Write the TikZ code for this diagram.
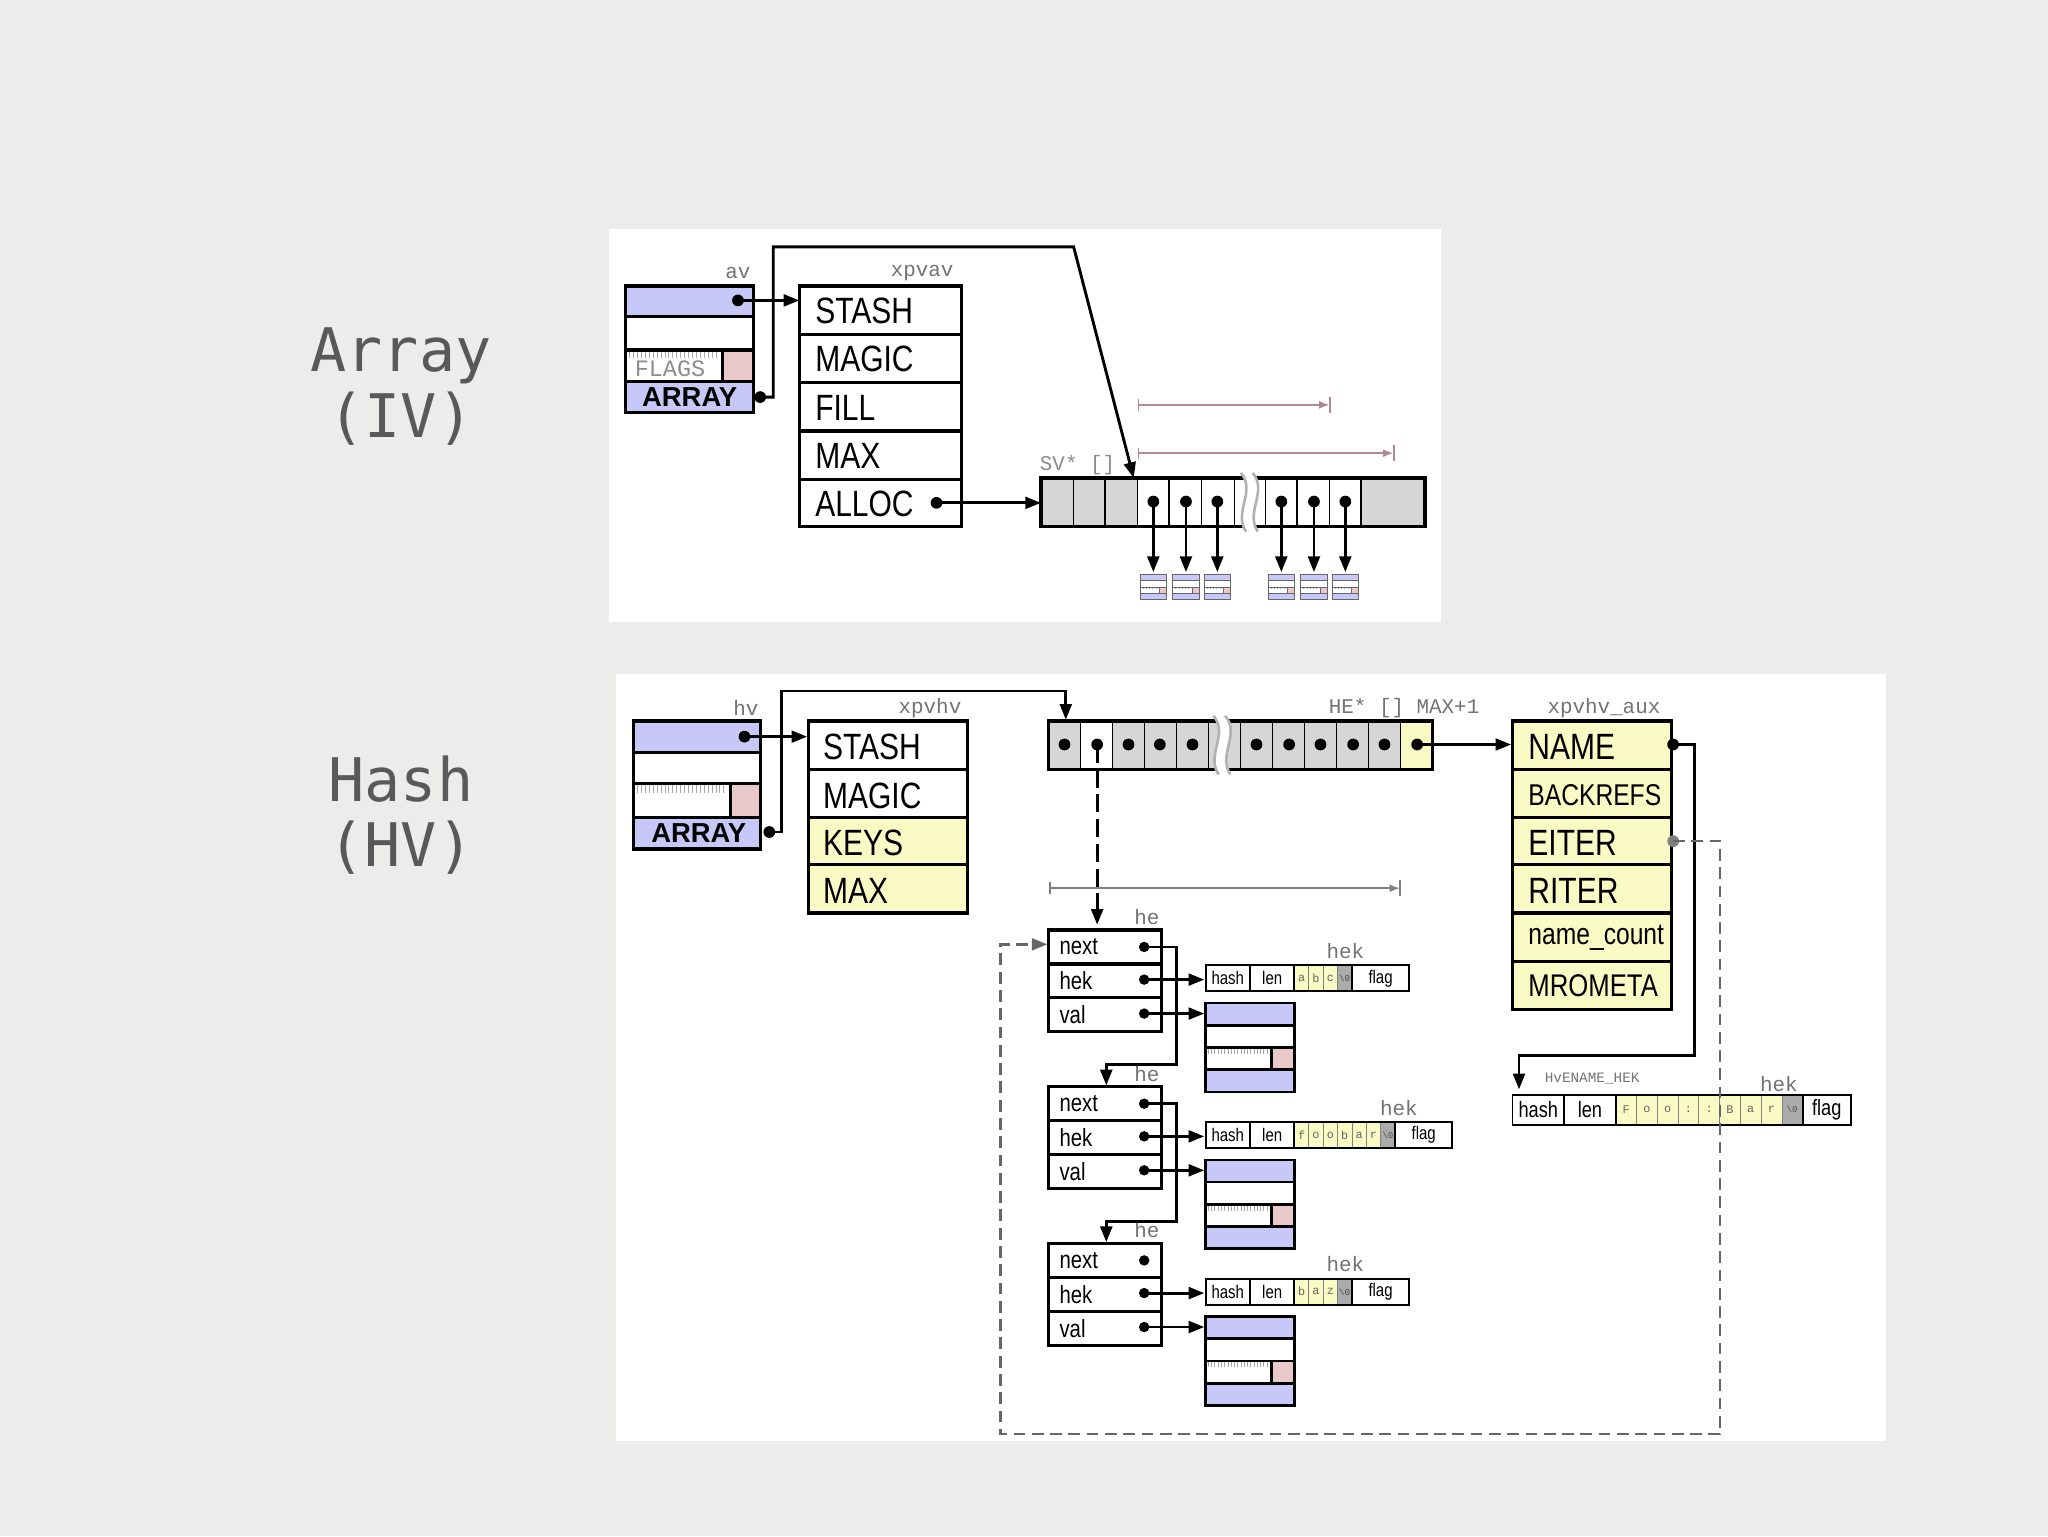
\documentclass[tikz,border=0pt]{standalone}
\usepackage{fontspec}
\setsansfont{Liberation Sans}
\setmonofont{Liberation Mono}
\newfontfamily\bigmono{DejaVu Sans Mono}
\newfontfamily\narrow{Liberation Sans}[FakeStretch=0.82]
\usetikzlibrary{arrows.meta}
\definecolor{paper}{HTML}{ECECEA}
\definecolor{svblue}{HTML}{C8C8F8}
\definecolor{svpink}{HTML}{E8C8C8}
\definecolor{yel}{HTML}{FAFAC4}
\definecolor{cellg}{HTML}{D6D6D6}
\definecolor{rng}{HTML}{B08890}
\newcommand\mysv[4]{%
 \pgfmathsetmacro\ya{#2+#4/4}\pgfmathsetmacro\yb{#2+#4/2}\pgfmathsetmacro\yc{#2+3*#4/4}%
 \pgfmathsetmacro\xe{#1+#3}\pgfmathsetmacro\xp{#1+0.74*#3}\pgfmathsetmacro\yd{#2+#4}%
 \pgfmathsetmacro\ha{#1+2}\pgfmathsetmacro\hb{#1+4.5}\pgfmathsetmacro\hc{\xp-2}\pgfmathsetmacro\yh{\yb+#4/14}%
 \fill[svblue] (#1,#2) rectangle (\xe,\ya);
 \fill[svblue] (#1,\yc) rectangle (\xe,\yd);
 \fill[svpink] (\xp,\yb) rectangle (\xe,\yc);
 \foreach \t in {\ha,\hb,...,\hc} \draw[gray!70,line width=0.4pt] (\t,\yb) -- (\t,\yh);
 \draw[svline] (#1,#2) rectangle (\xe,\yd);
 \draw[svline] (#1,\ya) -- (\xe,\ya) (#1,\yb) -- (\xe,\yb) (#1,\yc) -- (\xe,\yc) (\xp,\yb) -- (\xp,\yc);
}
% #1 x #2 y #3 h #4 wfield #5 wc #6 n #7 chars #8 wflag #9 font
\newcommand\hekbox[9]{%
 \pgfmathsetmacro\ye{#2+#3}\pgfmathsetmacro\ym{#2+#3/2}%
 \pgfmathsetmacro\xl{#1+#4}\pgfmathsetmacro\xc{#1+2*#4}%
 \pgfmathsetmacro\xz{\xc+#6*#5}\pgfmathsetmacro\xf{\xz+#5}\pgfmathsetmacro\xg{\xf+#8}%
 \fill[yel] (\xc,#2) rectangle (\xz,\ye);
 \fill[cellg!80!black] (\xz,#2) rectangle (\xf,\ye);
 \foreach \c [count=\i] in {#7} {%
   \pgfmathsetmacro\cx{\xc+(\i-0.5)*#5}
   \node[font=\ttfamily\fontsize{9}{9}\selectfont,text=black!60,inner sep=0pt] at (\cx,\ym) {\c};
   \pgfmathsetmacro\cl{\xc+\i*#5}
   \draw[black!50,line width=0.5pt] (\cl,#2) -- (\cl,\ye);}
 \draw[bx,line width=1.5pt] (#1,#2) rectangle (\xg,\ye) (\xl,#2) -- (\xl,\ye) (\xc,#2) -- (\xc,\ye) (\xf,#2) -- (\xf,\ye);
 \node[font=\ttfamily\fontsize{7}{7}\selectfont,text=black!70,inner sep=0pt] at ({(\xz+\xf)/2},\ym) {\textbackslash0};
 \node[font=#9,inner sep=0pt] at ({(#1+\xl)/2},\ym) {hash};
 \node[font=#9,inner sep=0pt] at ({(\xl+\xc)/2},\ym) {len};
 \node[font=#9,inner sep=0pt] at ({(\xf+\xg)/2},\ym) {flag};
}
\tikzset{
 bx/.style={draw=black,line width=2.4pt},
 svline/.style={draw=black,line width=2pt},
 ptr/.style={-{Triangle[length=12pt,width=9pt]},line width=2.2pt},
 dashptr/.style={-{Triangle[length=12pt,width=9pt]},line width=2.2pt,dash pattern=on 14pt off 5pt},
 dot/.style={circle,fill=black,inner sep=0pt,minimum size=9pt},
 big/.style={font=\narrow\fontsize{28}{28}\selectfont,anchor=west,inner sep=0pt},
 small/.style={font=\narrow\fontsize{19}{19}\selectfont,anchor=west,inner sep=0pt},
 glab/.style={font=\ttfamily\fontsize{16}{16}\selectfont,text=black!55,inner sep=0pt},
 side/.style={font=\bigmono\fontsize{46}{50}\selectfont,text=black!65,align=center},
}
\begin{document}
\begin{tikzpicture}[x=1pt,y=-1pt]
\fill[paper] (0,0) rectangle (1568,1176);
\useasboundingbox (0,0) rectangle (1568,1176);
\node[side] (ta) at (307,296) {Array\\(IV)};
\node[side] (th) at (307,624) {Hash\\(HV)};
% ---------- top panel
\fill[white] (466,175) rectangle (1103,476);
\fill[svblue] (479,219) rectangle (577,242);
\fill[svblue] (479,292) rectangle (577,316);
\fill[svpink] (553,268) rectangle (577,292);
\foreach \t in {482,485,...,550} \draw[gray!70,line width=0.4pt] (\t,268) -- (\t,274);
\node[glab,text=black!45,font=\ttfamily\fontsize{18}{18}\selectfont] (flags) at (513,282) {FLAGS};
\draw[bx] (479,219) rectangle (577,316) (479,242) -- (577,242) (479,268) -- (577,268) (479,292) -- (577,292) (553,268) -- (553,292);
\node[font=\sffamily\bfseries\fontsize{21}{21}\selectfont] (avarr) at (528,304) {ARRAY};
\node[glab] (avl) at (565,209) {av};
\draw[bx] (612,219) rectangle (736,403);
\foreach \y in {256,293,330,367} \draw[bx] (612,\y) -- (736,\y);
\node[big] (a1) at (624,238) {STASH};
\node[big] (a2) at (624,275) {MAGIC};
\node[big] (a3) at (624,312) {FILL};
\node[big] (a4) at (624,349) {MAX};
\node[big] (a5) at (624,386) {ALLOC};
\node[glab] (xpvavl) at (706,209) {xpvav};
\fill[cellg] (797,366) rectangle (871,403);
\fill[cellg] (1042,366) rectangle (1091,403);
\foreach \x in {822,846,871,895,920,945,969,993,1018,1042} \draw[line width=1pt] (\x,366) -- (\x,403);
\draw[bx] (797,366) rectangle (1091,403);
\fill[white] (950,362) .. controls (962,376) and (944,392) .. (954,407) -- (963,407) .. controls (953,392) and (971,376) .. (959,362) -- cycle;
\draw[gray!60,line width=2pt] (950,362) .. controls (962,376) and (944,392) .. (954,407);
\draw[gray!60,line width=2pt] (959,362) .. controls (971,376) and (953,392) .. (963,407);
\node[glab,text=black!45] (svl) at (825,356) {SV* []};
\coordinate (arrtop) at (868,366);
\coordinate (arrleft) at (797,385);
\begin{scope}[svline/.style={draw=black!60,line width=0.7pt}]
\foreach \x [count=\i] in {883,908,932,981,1006,1030} {
  \node[dot] (d\i) at (\x,384) {};
  \coordinate (b\i) at (\x,438);
  \draw[ptr] (d\i.center) -- (b\i);
  \mysv{\x-10}{440}{20}{19}
}
\end{scope}
\draw[rng,line width=1.4pt,|-{Latex[length=8pt]}] (871,310) -- (1018,310);
\draw[rng,line width=1.4pt] (1018,304) -- (1018,316);
\draw[rng,line width=1.4pt,|-{Latex[length=8pt]}] (871,347) -- (1067,347);
\draw[rng,line width=1.4pt] (1067,341) -- (1067,353);
\node[dot] (avd) at (565,230) {};
\draw[ptr] (avd.center) -- (612,230);
\node[dot] (avad) at (582,304) {};
\draw[ptr] (avad.center) -- (592,304) -- (592,189) -- (822,189) -- (arrtop);
\node[dot] (alld) at (717,385) {};
\draw[ptr] (alld.center) -- (arrleft);
% ---------- bottom panel
\fill[white] (472,516) rectangle (1444,1103);
\fill[svblue] (485,552) rectangle (582,576);
\fill[svblue] (485,626) rectangle (582,650);
\fill[svpink] (559,600) rectangle (582,626);
\foreach \t in {488,491,...,556} \draw[gray!70,line width=0.4pt] (\t,600) -- (\t,607);
\draw[bx] (485,552) rectangle (582,650) (485,576) -- (582,576) (485,600) -- (582,600) (485,626) -- (582,626) (559,600) -- (559,626);
\node[font=\sffamily\bfseries\fontsize{21}{21}\selectfont] (hvarr) at (535,638) {ARRAY};
\node[glab] (hvl) at (571,542) {hv};
\fill[yel] (619,626) rectangle (741,699);
\draw[bx] (619,552) rectangle (741,699);
\foreach \y in {589,626,662} \draw[bx] (619,\y) -- (741,\y);
\node[big] (h1) at (630,572) {STASH};
\node[big] (h2) at (630,609) {MAGIC};
\node[big] (h3) at (630,645) {KEYS};
\node[big] (h4) at (630,682) {MAX};
\node[glab] (xpvhvl) at (712,542) {xpvhv};
\fill[cellg] (803,552) rectangle (1072,589);
\fill[white] (827,552) rectangle (852,589);
\fill[yel] (1072,552) rectangle (1097,589);
\foreach \x in {827,852,876,901,925,950,974,999,1023,1048,1072} \draw[line width=1pt] (\x,552) -- (\x,589);
\draw[bx] (803,552) rectangle (1097,589);
\fill[white] (929,548) .. controls (941,562) and (923,578) .. (933,593) -- (942,593) .. controls (932,578) and (950,562) .. (938,548) -- cycle;
\draw[gray!60,line width=2pt] (929,548) .. controls (941,562) and (923,578) .. (933,593);
\draw[gray!60,line width=2pt] (938,548) .. controls (950,562) and (932,578) .. (942,593);
\node[glab] (hel) at (1075,542) {HE* [] MAX+1};
\foreach \x [count=\i] in {815,840,864,888,913,962,987,1011,1036,1060,1085} \node[dot] (e\i) at (\x,570) {};
\node[dot] (hvd) at (570,564) {};
\draw[ptr] (hvd.center) -- (618,564);
\node[dot] (hvad) at (589,637) {};
\draw[ptr] (hvad.center) -- (598,637) -- (598,529) -- (816,529) -- (816,551);
\draw[gray,line width=1.6pt,|-{Latex[length=8pt]}] (803,680) -- (1072,680);
\draw[gray,line width=1.6pt] (1072,674) -- (1072,686);
\fill[yel] (1158,552) rectangle (1280,773);
\draw[bx] (1158,552) rectangle (1280,773);
\foreach \y in {589,626,662,699,736} \draw[bx] (1158,\y) -- (1280,\y);
\node[big] (x1) at (1170,572) {NAME};
\node[big,font=\narrow\fontsize{23}{23}\selectfont] (x2) at (1170,609) {BACKREFS};
\node[big] (x3) at (1170,645) {EITER};
\node[big] (x4) at (1170,682) {RITER};
\node[big,font=\narrow\fontsize{23}{23}\selectfont] (x5) at (1170,718) {name\_count};
\node[big,font=\narrow\fontsize{24}{24}\selectfont] (x6) at (1170,755) {MROMETA};
\node[glab] (auxl) at (1228,542) {xpvhv\_aux};
\draw[ptr] (e11.center) -- (1157,570);
\node[dot] (nd) at (1281,570) {};
\draw[ptr] (nd.center) -- (1297,570) -- (1297,808) -- (1163,808) -- (1163,834);
\node[glab,font=\ttfamily\fontsize{11}{11}\selectfont] (hvn) at (1219,826) {HvENAME\_HEK};
\node[glab] (hekn) at (1362,830) {hek};
\hekbox{1158}{838}{23}{39.5}{15.9}{8}{F,o,o,:,:,B,a,r}{37}{\narrow\fontsize{17}{17}\selectfont}
\foreach \yy [count=\k] in {712,832,952} {
  \draw[bx] (803,\yy) rectangle (889,\yy+78) (803,\yy+26) -- (889,\yy+26) (803,\yy+52) -- (889,\yy+52);
  \node[small] (n\k) at (811,\yy+13) {next};
  \node[small] (k\k) at (811,\yy+39) {hek};
  \node[small] (v\k) at (811,\yy+65) {val};
  \node[glab] (hl\k) at (878,\yy-10) {he};
  \node[dot,minimum size=8pt] (nd\k) at (876,\yy+13) {};
  \node[dot,minimum size=8pt] (kd\k) at (876,\yy+38) {};
  \node[dot,minimum size=8pt] (vd\k) at (876,\yy+64) {};
  \draw[ptr] (kd\k.center) -- (922,\yy+38);
  \draw[ptr] (vd\k.center) -- (922,\yy+64);
  \mysv{923}{\yy+56}{68}{68}
}
\node[glab] (hk1) at (1030,728) {hek};
\node[glab] (hk2) at (1071,848) {hek};
\node[glab] (hk3) at (1030,968) {hek};
\draw[ptr] (nd1.center) -- (901,725) -- (901,815) -- (847,815) -- (847,831);
\draw[ptr] (nd2.center) -- (901,845) -- (901,935) -- (847,935) -- (847,951);
\hekbox{923}{739}{20}{34}{11}{3}{a,b,c}{44}{\narrow\fontsize{14}{14}\selectfont}
\hekbox{923}{859}{20}{34}{11}{6}{f,o,o,b,a,r}{44}{\narrow\fontsize{14}{14}\selectfont}
\hekbox{923}{979}{20}{34}{11}{3}{b,a,z}{44}{\narrow\fontsize{14}{14}\selectfont}
\draw[dashptr] (e2.center) -- (840,708);
\node[dot,fill=gray] (ed) at (1281,644) {};
\draw[gray!80!black,line width=1.8pt,dash pattern=on 9pt off 5pt,-{Triangle[length=12pt,width=9pt]}] (ed.center) -- (1317,644) -- (1317,1098) -- (766,1098) -- (766,723) -- (802,723);
\end{tikzpicture}
\end{document}
